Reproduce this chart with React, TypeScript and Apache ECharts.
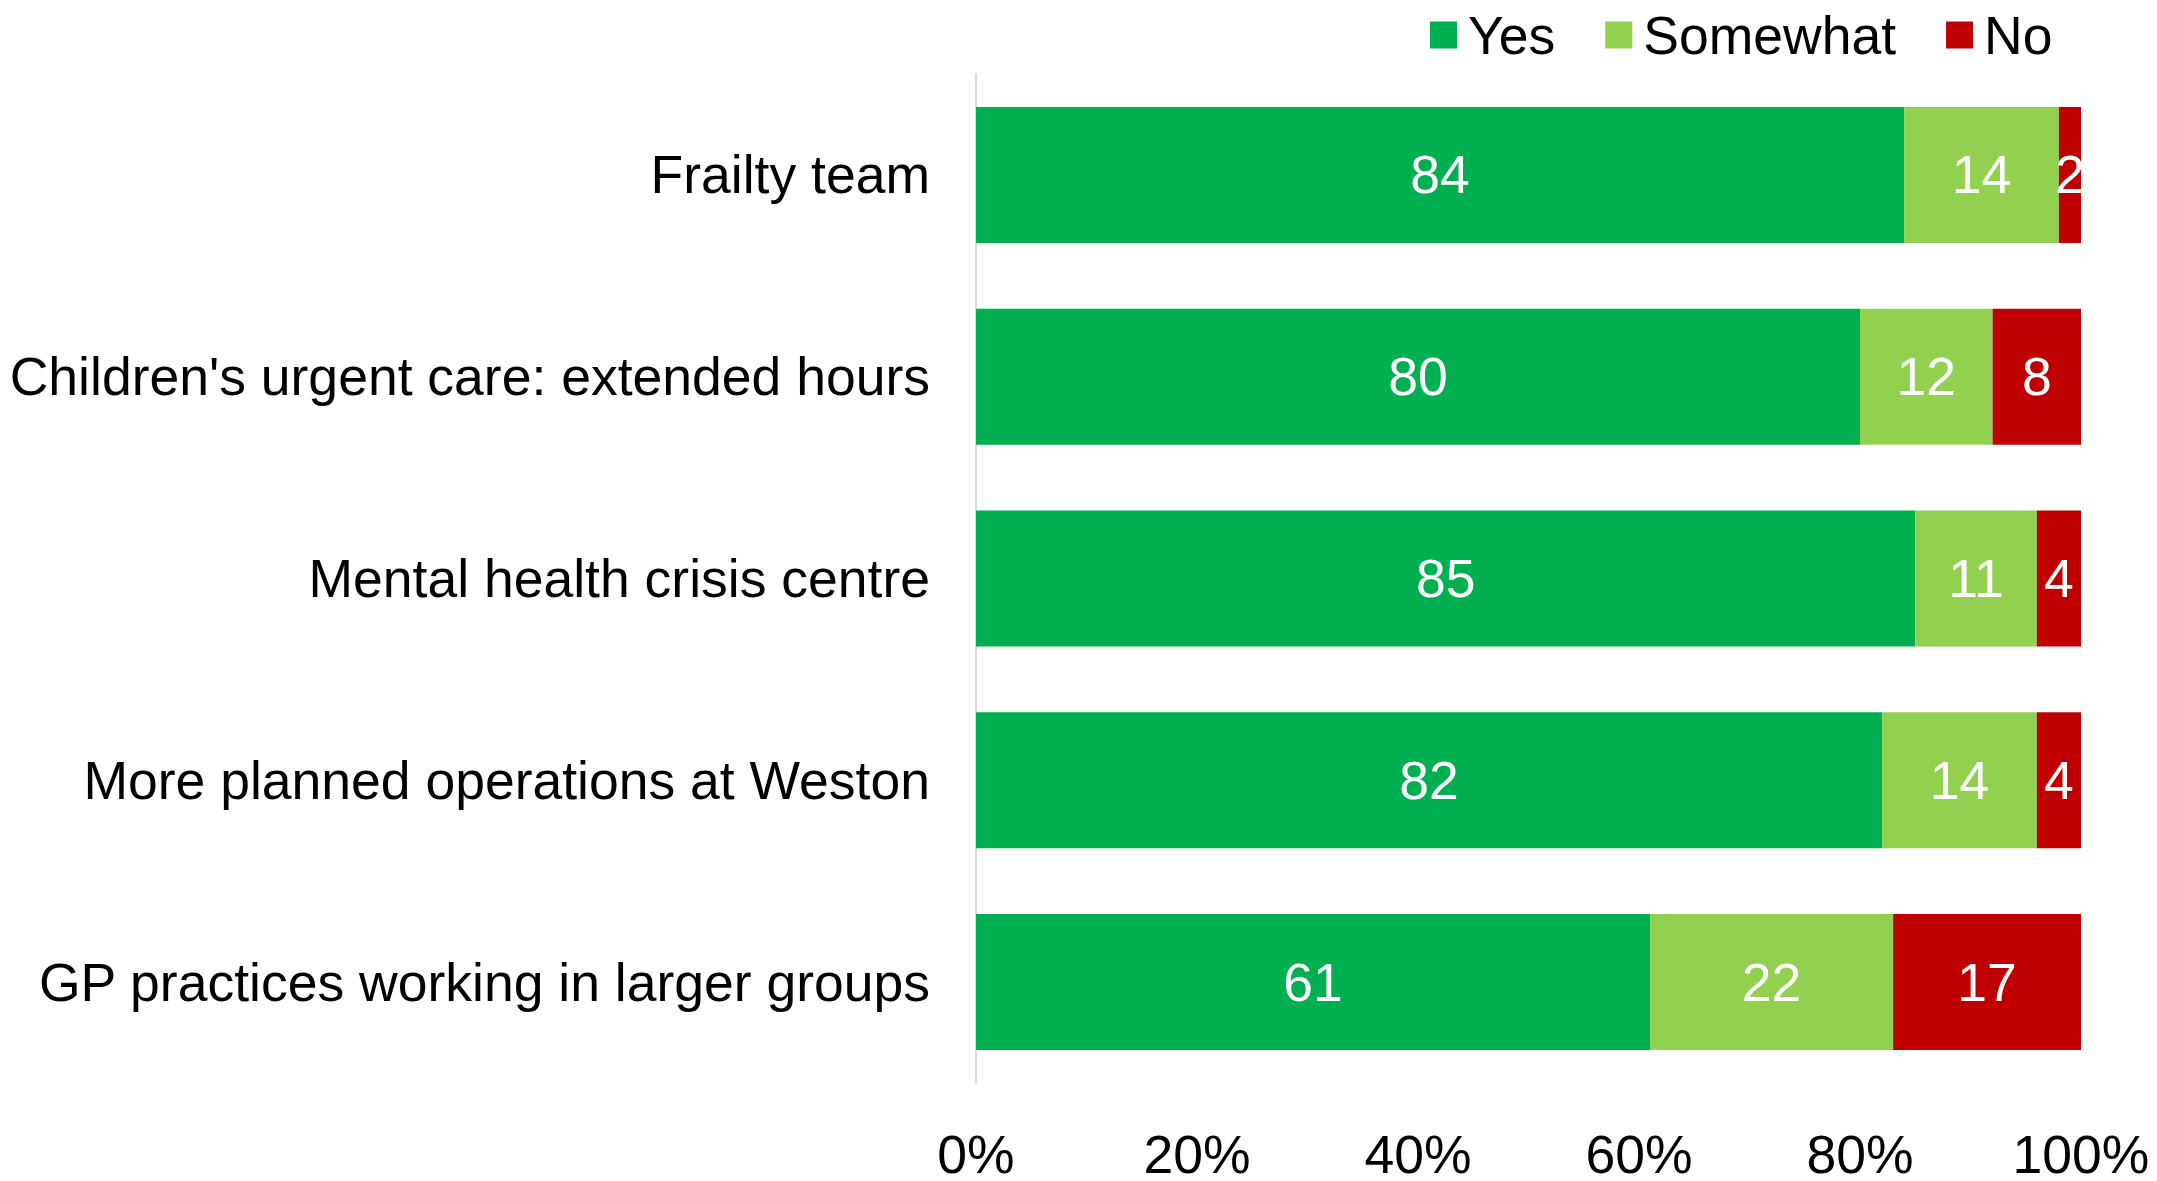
import React, { useEffect, useRef } from "react";
import * as echarts from "echarts";

const categories = [
  "Frailty team",
  "Children's urgent care: extended hours",
  "Mental health crisis centre",
  "More planned operations at Weston",
  "GP practices working in larger groups",
];
const seriesNames = ["Yes", "Somewhat", "No"];
const yesValues = [84, 80, 85, 82, 61];
const somewhatValues = [14, 12, 11, 14, 22];
const noValues = [2, 8, 4, 4, 17];
const colors = ["#00B050", "#92D050", "#C00000"];
const xTicks = [0, 20, 40, 60, 80, 100];

const FONT = "'Liberation Sans', Arial, sans-serif";
const FS = 53.5;

export default function App() {
  const ref = useRef<HTMLDivElement>(null);
  useEffect(() => {
    if (!ref.current) return;
    const chart = echarts.init(ref.current, null, { renderer: "svg" });
    const values = [yesValues, somewhatValues, noValues];
    chart.setOption({
      animation: false,
      backgroundColor: "#ffffff",
      textStyle: { fontFamily: FONT },
      legend: {
        data: seriesNames,
        left: 1425,
        top: 3,
        itemWidth: 27,
        itemHeight: 27,
        itemGap: 50,
        icon: "rect",
        textStyle: { fontSize: FS, color: "#000", fontFamily: FONT, padding: [0, 0, 0, 6] },
      },
      grid: { left: 976, right: 76, top: 74, bottom: 84, containLabel: false },
      xAxis: {
        type: "value",
        min: xTicks[0],
        max: xTicks[xTicks.length - 1],
        interval: 20,
        axisLine: { show: false },
        axisTick: { show: false },
        splitLine: { show: false },
        axisLabel: {
          formatter: (v: number) => v + "%",
          fontSize: FS,
          lineHeight: 24,
          color: "#000",
          fontFamily: FONT,
          margin: 59,
        },
      },
      yAxis: {
        type: "category",
        data: categories,
        inverse: true,
        axisLine: { show: true, lineStyle: { color: "#d9d9d9", width: 2 } },
        axisTick: { show: false },
        axisLabel: { fontSize: FS, color: "#000", fontFamily: FONT, margin: 46 },
      },
      series: seriesNames.map((name, i) => ({
        name,
        type: "bar",
        stack: "total",
        barWidth: 136,
        data: values[i],
        itemStyle: { color: colors[i] },
        label: {
          show: true,
          position: "inside",
          color: "#fff",
          fontSize: FS,
          fontFamily: FONT,
        },
      })),
    });
    return () => chart.dispose();
  }, []);
  return (
    <div
      ref={ref}
      style={{ position: "fixed", left: 0, top: 0, width: 2157, height: 1181 }}
    />
  );
}
